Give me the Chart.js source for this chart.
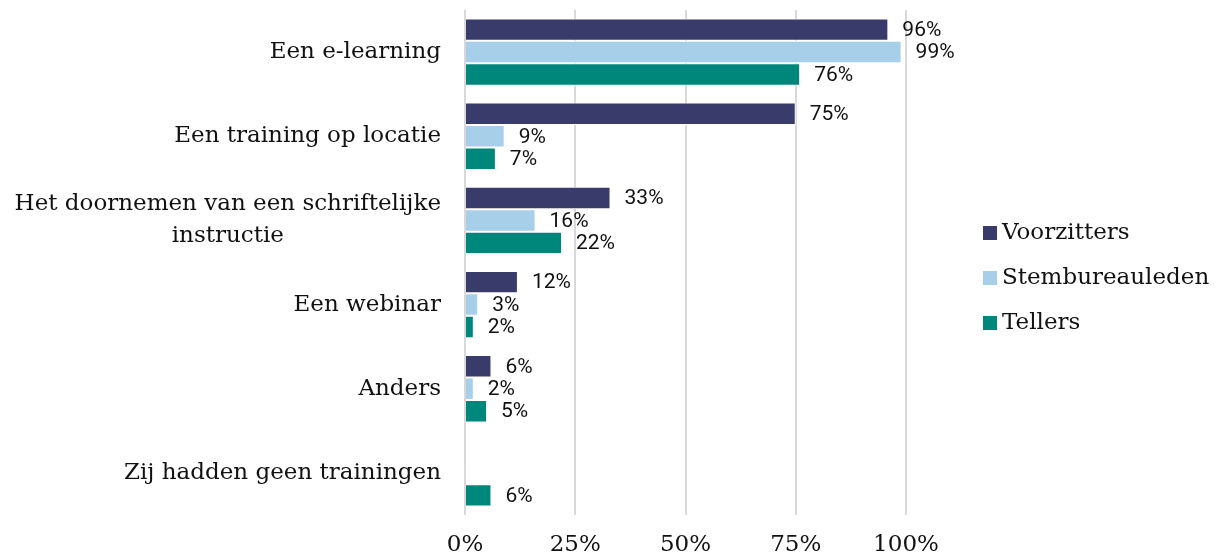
<!DOCTYPE html>
<html>
<head>
<meta charset="utf-8">
<script src="https://cdn.jsdelivr.net/npm/chart.js@4/dist/chart.umd.min.js"></script>
<style>
  html, body { margin: 0; padding: 0; background: #fff; }
  #wrap { width: 1221px; height: 558px; }
</style>
</head>
<body>
<div id="wrap"><canvas id="grafiek"></canvas></div>
<script>
// categorieën en waarden (percentages)
const categorieen = [
  'Een e-learning',
  'Een training op locatie',
  ['Het doornemen van een schriftelijke', 'instructie'],
  'Een webinar',
  'Anders',
  'Zij hadden geen trainingen'
];
const voorzitters = [96, 75, 33, 12, 6, 0];
const stembureauleden = [99, 9, 16, 3, 2, 0.3];
const tellers = [76, 7, 22, 2, 5, 6];
const asTicks = [0, 25, 50, 75, 100];

const serif = '"DejaVu Serif", serif';

// labels achter de balken
const waardeLabels = {
  id: 'waardeLabels',
  afterDatasetsDraw(chart) {
    const ctx = chart.ctx;
    ctx.save();
    ctx.font = '21px Roboto, sans-serif';
    ctx.fillStyle = '#111';
    ctx.textAlign = 'left';
    ctx.textBaseline = 'middle';
    chart.data.datasets.forEach((ds, i) => {
      chart.getDatasetMeta(i).data.forEach((bar, j) => {
        const v = ds.data[j];
        if (v < 1) return;
        ctx.fillText(Math.round(v) + '%', bar.x + 14, bar.y + 1);
      });
    });
    ctx.restore();
  }
};

// categorie-labels: blok rechts uitgelijnd, regels gecentreerd
const categorieLabels = {
  id: 'categorieLabels',
  afterDraw(chart) {
    const ctx = chart.ctx;
    const y = chart.scales.y;
    const rechts = chart.chartArea.left - 24;
    ctx.save();
    ctx.font = '23px ' + serif;
    ctx.fillStyle = '#111';
    ctx.textAlign = 'center';
    ctx.textBaseline = 'middle';
    chart.data.labels.forEach((lab, i) => {
      const regels = Array.isArray(lab) ? lab : [lab];
      const breedte = Math.max(...regels.map(r => ctx.measureText(r).width));
      const midden = rechts - breedte / 2;
      const lh = 32;
      const y0 = y.getPixelForValue(i) - (regels.length - 1) * lh / 2;
      regels.forEach((r, k) => ctx.fillText(r, midden, y0 + k * lh));
    });
    ctx.restore();
  }
};

// legenda rechts
const legenda = {
  id: 'legenda',
  afterDraw(chart) {
    const ctx = chart.ctx;
    ctx.save();
    ctx.font = '23px ' + serif;
    ctx.textBaseline = 'middle';
    ctx.textAlign = 'left';
    chart.data.datasets.forEach((ds, i) => {
      const yc = 233 + i * 45;
      ctx.fillStyle = ds.backgroundColor;
      ctx.fillRect(983, yc - 7, 14, 14);
      ctx.fillStyle = '#111';
      ctx.fillText(ds.label, 1002, yc);
    });
    ctx.restore();
  }
};

new Chart(document.getElementById('grafiek'), {
  type: 'bar',
  data: {
    labels: categorieen,
    datasets: [
      { label: 'Voorzitters', data: voorzitters, backgroundColor: '#393c6a' },
      { label: 'Stembureauleden', data: stembureauleden, backgroundColor: '#a8cfe9' },
      { label: 'Tellers', data: tellers, backgroundColor: '#00877b' }
    ]
  },
  options: {
    indexAxis: 'y',
    responsive: true,
    maintainAspectRatio: false,
    animation: false,
    layout: { padding: { top: 10, right: 315, bottom: 0, left: 0 } },
    datasets: {
      bar: {
        categoryPercentage: 0.8,
        barPercentage: 1,
        borderWidth: 1,
        borderColor: 'rgba(255,255,255,0.9)'
      }
    },
    plugins: {
      legend: { display: false },
      tooltip: { enabled: false }
    },
    scales: {
      x: {
        min: 0,
        max: 100,
        afterBuildTicks: s => { s.ticks = asTicks.map(v => ({ value: v })); },
        afterFit: s => { s.height = 43; },
        grid: { color: '#d9d9d9', lineWidth: 2, drawTicks: false },
        border: { display: false },
        ticks: {
          padding: 16,
          color: '#111',
          font: { family: serif, size: 23 },
          callback: v => v + '%'
        }
      },
      y: {
        afterFit: s => { s.width = 465; },
        grid: { display: false },
        border: { display: false },
        ticks: { padding: 0, color: 'rgba(0,0,0,0)', font: { family: serif, size: 8 } }
      }
    }
  },
  plugins: [waardeLabels, categorieLabels, legenda]
});
</script>
</body>
</html>
